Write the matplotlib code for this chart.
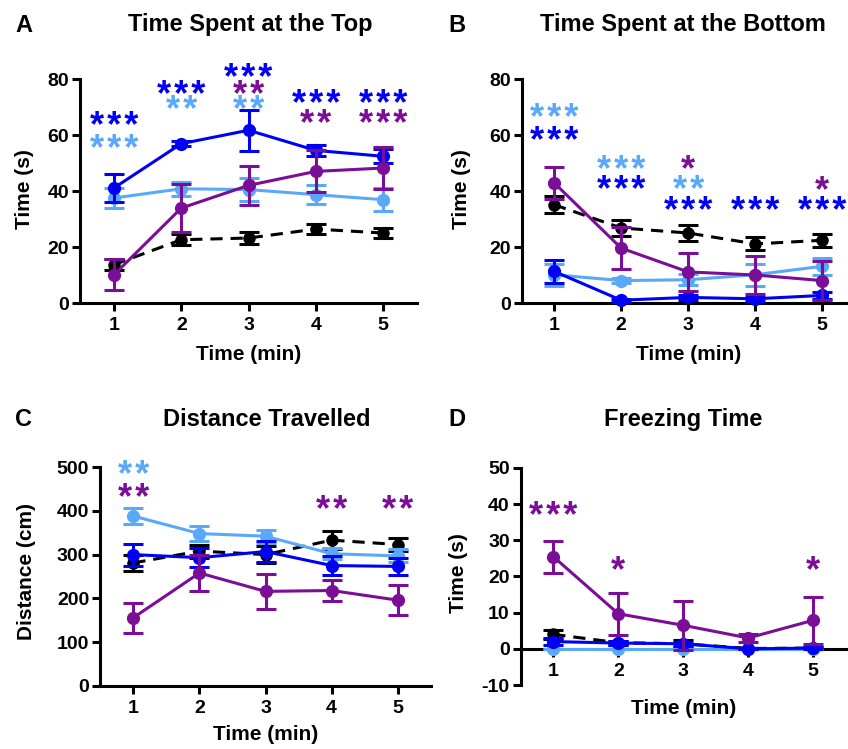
import matplotlib
matplotlib.use("Agg")
import matplotlib.pyplot as plt
from matplotlib.transforms import offset_copy

plt.rcParams['font.family'] = ['Liberation Sans', 'DejaVu Sans']
plt.rcParams['font.weight'] = 'bold'

W, H = 848, 749
DPI = 100

minutes = [1, 2, 3, 4, 5]

# Colors
C_BLACK = '#000000'
C_LIGHT = '#5AA9F8'
C_BLUE = '#0000F5'
C_PURPLE = '#7A0E96'

# ---- Panel A: Time Spent at the Top (s)
A_black = [13.7, 22.6, 23.2, 26.4, 25.0]
A_black_err = [2.0, 2.0, 2.0, 1.8, 1.8]
A_light = [37.5, 40.8, 40.5, 38.7, 36.9]
A_light_err = [3.5, 2.5, 4.0, 3.5, 4.0]
A_blue = [41.1, 56.9, 61.7, 54.5, 52.4]
A_blue_err = [5.0, 1.0, 7.3, 2.0, 2.5]
A_purple = [10.1, 33.9, 42.0, 47.0, 48.2]
A_purple_err = [5.5, 8.5, 7.0, 7.5, 7.5]

# ---- Panel B: Time Spent at the Bottom (s)
B_black = [35.1, 26.8, 25.0, 21.1, 22.4]
B_black_err = [3.0, 3.0, 2.8, 2.3, 2.3]
B_light = [10.1, 8.0, 8.3, 10.1, 13.1]
B_light_err = [4.0, 1.0, 2.0, 4.0, 3.0]
B_blue = [11.3, 1.0, 2.0, 1.5, 2.7]
B_blue_err = [4.0, 0.5, 0.8, 0.8, 1.2]
B_purple = [42.9, 19.6, 11.1, 10.0, 8.0]
B_purple_err = [5.6, 7.4, 6.8, 6.7, 7.0]

# ---- Panel C: Distance Travelled (cm)
C_black = [281, 308, 300, 333, 323]
C_black_err = [18, 15, 20, 20, 15]
C_light = [388, 348, 342, 302, 297]
C_light_err = [18, 18, 15, 12, 15]
C_blue = [300, 293, 307, 275, 273]
C_blue_err = [25, 22, 25, 22, 20]
C_purple = [156, 258, 216, 218, 196]
C_purple_err = [34, 40, 40, 25, 35]

# ---- Panel D: Freezing Time (s)
D_black = [4.0, 1.7, 1.4, 0.1, 0.2]
D_black_err = [1.2, 0.6, 1.0, 0.1, 0.2]
D_light = [0.0, 0.0, 0.0, 0.0, 0.0]
D_light_err = [0.0, 0.0, 0.0, 0.0, 0.0]
D_blue = [2.0, 1.6, 1.4, 0.0, 0.2]
D_blue_err = [1.0, 0.6, 0.5, 0.1, 0.2]
D_purple = [25.5, 9.7, 6.5, 3.0, 7.9]
D_purple_err = [4.4, 5.8, 6.7, 1.2, 6.5]

# significance marks: (minute, y level, text, color)
A_sig = [(1, 66.0, '***', C_BLUE), (1, 57.7, '***', C_LIGHT),
         (2, 77.0, '***', C_BLUE), (2, 71.7, '**', C_LIGHT),
         (3, 83.0, '***', C_BLUE), (3, 77.0, '**', C_PURPLE), (3, 71.7, '**', C_LIGHT),
         (4, 74.0, '***', C_BLUE), (4, 66.7, '**', C_PURPLE),
         (5, 74.0, '***', C_BLUE), (5, 66.7, '***', C_PURPLE)]
B_sig = [(1, 69.0, '***', C_LIGHT), (1, 60.7, '***', C_BLUE),
         (2, 50.2, '***', C_LIGHT), (2, 43.0, '***', C_BLUE),
         (3, 50.6, '*', C_PURPLE), (3, 43.0, '**', C_LIGHT), (3, 35.7, '***', C_BLUE),
         (4, 35.7, '***', C_BLUE),
         (5, 43.0, '*', C_PURPLE), (5, 35.7, '***', C_BLUE)]
C_sig = [(1, 500, '**', C_LIGHT), (1, 447, '**', C_PURPLE),
         (4, 420, '**', C_PURPLE), (5, 420, '**', C_PURPLE)]
D_sig = [(1, 38.9, '***', C_PURPLE), (2, 23.8, '*', C_PURPLE), (5, 23.8, '*', C_PURPLE)]

fig = plt.figure(figsize=(W / DPI, H / DPI), dpi=DPI)


def rect(l, r, t, b):
    return [l / W, 1 - b / H, (r - l) / W, (b - t) / H]


def fx(px):
    return px / W


def fy(py):
    return 1 - py / H


LW = 2.2
SIG_FS = 26
SIG_CENTER = 0.52  # glyph centre above baseline, in em


def panel(r, xlim, ylim, yticks, series, sig, title, letter, ylabel,
          title_xy, letter_xy, ylabel_xy, xlabel_xy, zero_axis=False):
    ax = fig.add_axes(r)
    for y, e, col, ls, zo in series:
        ax.errorbar(minutes, y, yerr=e, color=col, ls=ls, lw=LW, marker='o',
                    ms=8.5 if col != C_BLACK else 8, capsize=7.5, capthick=LW,
                    elinewidth=LW, zorder=zo, clip_on=False,
                    dashes=(4, 2.6) if ls == '--' else (None, None))
    ax.set_xlim(*xlim)
    ax.set_ylim(*ylim)
    ax.set_xticks(minutes)
    ax.set_yticks(yticks)
    ax.set_xticklabels([str(m) for m in minutes])
    ax.set_yticklabels([str(t) for t in yticks])
    for s in ['top', 'right']:
        ax.spines[s].set_visible(False)
    for s in ['left', 'bottom']:
        ax.spines[s].set_linewidth(LW)
    if zero_axis:
        ax.spines['bottom'].set_position(('data', 0))
    ax.tick_params(axis='both', width=LW, length=6, labelsize=14, pad=2)
    ax.tick_params(axis='x', pad=4)
    for lab in ax.get_xticklabels() + ax.get_yticklabels():
        lab.set_fontweight('bold')
    ax.patch.set_alpha(0)
    tr = offset_copy(ax.transData, fig=fig, y=-SIG_CENTER * SIG_FS, units='points')
    for x, yv, txt, col in sig:
        spaced = '\u200a'.join(txt)
        ax.text(x, yv, spaced, color=col, fontsize=SIG_FS, fontweight='bold',
                ha='center', va='baseline', transform=tr, clip_on=False)
    fig.text(fx(title_xy[0]), fy(title_xy[1]), title, fontsize=17,
             fontweight='bold', ha='center', va='center')
    fig.text(fx(letter_xy[0]), fy(letter_xy[1]), letter, fontsize=17,
             fontweight='bold', ha='center', va='center')
    fig.text(fx(ylabel_xy[0]), fy(ylabel_xy[1]), ylabel, fontsize=15,
             fontweight='bold', ha='center', va='center', rotation=90)
    fig.text(fx(xlabel_xy[0]), fy(xlabel_xy[1]), 'Time (min)', fontsize=15,
             fontweight='bold', ha='center', va='center')
    return ax


def series_of(bk, bke, lt, lte, bl, ble, pu, pue):
    return [(bk, bke, C_BLACK, '--', 3), (lt, lte, C_LIGHT, '-', 4),
            (bl, ble, C_BLUE, '-', 5), (pu, pue, C_PURPLE, '-', 6)]


panel(rect(80.4, 416.6, 79, 303), (0.5, 5.5), (0, 80), [0, 20, 40, 60, 80],
      series_of(A_black, A_black_err, A_light, A_light_err, A_blue, A_blue_err,
                A_purple, A_purple_err),
      A_sig, 'Time Spent at the Top', 'A', 'Time (s)',
      (250, 25), (24, 25), (25, 189), (249, 355))

panel(rect(522, 522 + 67 * 4.98, 79, 303), (0.52, 5.5), (0, 80), [0, 20, 40, 60, 80],
      series_of(B_black, B_black_err, B_light, B_light_err, B_blue, B_blue_err,
                B_purple, B_purple_err),
      B_sig, 'Time Spent at the Bottom', 'B', 'Time (s)',
      (683, 25), (457, 25), (462, 189), (689, 355))

panel(rect(100.3, 430.8, 467, 686), (0.5, 5.5), (0, 500), [0, 100, 200, 300, 400, 500],
      series_of(C_black, C_black_err, C_light, C_light_err, C_blue, C_blue_err,
                C_purple, C_purple_err),
      C_sig, 'Distance Travelled', 'C', 'Distance (cm)',
      (267, 420), (24, 420), (27, 572), (266, 735))

panel(rect(520.8, 520.8 + 65 * 5.05, 468, 685), (0.5, 5.55), (-10, 50),
      [-10, 0, 10, 20, 30, 40, 50],
      series_of(D_black, D_black_err, D_light, D_light_err, D_blue, D_blue_err,
                D_purple, D_purple_err),
      D_sig, 'Freezing Time', 'D', 'Time (s)',
      (683, 420), (457, 420), (458, 573), (684, 708), zero_axis=True)

fig.savefig('out.png', dpi=DPI)
